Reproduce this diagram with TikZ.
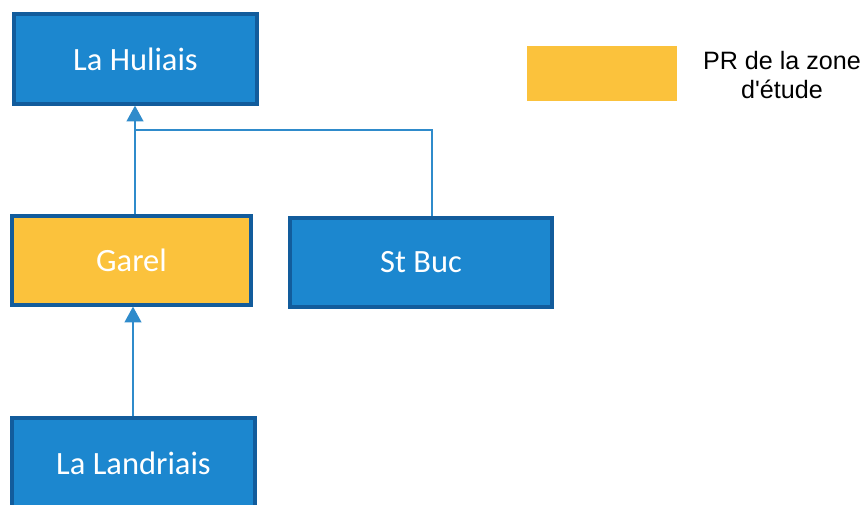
\documentclass[tikz,border=0pt]{standalone}
\usepackage{fontspec}
\setmainfont{Carlito}
\newfontfamily\legendfont{Liberation Sans}
\usetikzlibrary{arrows.meta}
\definecolor{boxblue}{HTML}{1C87CF}
\definecolor{edgeblue}{HTML}{125C9C}
\definecolor{studyyellow}{HTML}{FBC23C}
\definecolor{linkblue}{HTML}{2F8BCB}
\tikzset{
  site/.style={draw=edgeblue, line width=1.8pt, fill=boxblue, text=white,
    font=\fontsize{18.5}{22}\selectfont, inner sep=0pt},
  studysite/.style={site, fill=studyyellow},
  link/.style={draw=linkblue, line width=1.2pt},
  uparrow/.style={link, -{Triangle[width=9.5pt,length=9pt]}}
}
\begin{document}
\begin{tikzpicture}[x=0.02cm, y=-0.02cm]
  \useasboundingbox (0,0) rectangle (865,504);
  % sites
  \node[site, minimum width=243*0.02cm, minimum height=90*0.02cm] (huliais) at (135.5,59) {La Huliais};
  \node[studysite, minimum width=239*0.02cm, minimum height=89*0.02cm] (garel) at (131.5,260.5) {Garel};
  \node[site, minimum width=262*0.02cm, minimum height=89*0.02cm] (stbuc) at (421,262.5) {St Buc};
  \node[site, minimum width=243*0.02cm, minimum height=90*0.02cm] (landriais) at (133.5,463) {La Landriais};
  % links
  \coordinate (junction) at (135,130);
  \coordinate (corner) at (432,130);
  \draw[uparrow] (garel.north -| junction) -- (huliais.south -| junction);
  \draw[link] (junction) -- (corner) -- (stbuc.north -| corner);
  \draw[uparrow] (landriais.north -| 133,0) -- (garel.south -| 133,0);
  % legend
  \node[fill=studyyellow, minimum width=150*0.02cm, minimum height=55*0.02cm, inner sep=0pt] (key) at (602,73.5) {};
  \node[font=\legendfont\fontsize{14.3}{17}\selectfont, align=center, anchor=center] (keytext) at (782,75) {PR de la zone\\d'étude};
\end{tikzpicture}
\end{document}
